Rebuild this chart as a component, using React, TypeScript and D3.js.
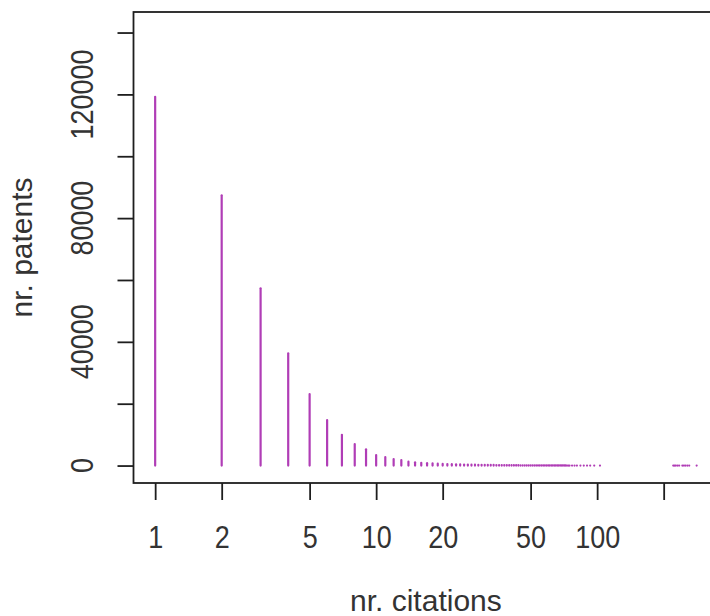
import React, { useRef, useEffect } from 'react';
import * as d3 from 'd3';

// citation count (x) and number of patents with that count (y)
const citations: number[] = [
  1, 2, 3, 4, 5, 6, 7, 8, 9, 10,
  11, 12, 13, 14, 15, 16, 17, 18, 19, 20,
  21, 22, 23, 24, 25, 26, 27, 28, 29, 30,
  31, 32, 33, 34, 35, 36, 37, 38, 39, 40,
  41, 42, 43, 44, 45, 46, 47, 48, 49, 50,
  51, 52, 53, 54, 55, 56, 57, 58, 59, 60,
  61, 62, 63, 64, 65, 66, 67, 68, 69, 70,
  71, 72, 73, 74, 75, 77, 79, 81, 84, 87,
  90, 93, 97, 103,
  221, 224, 227, 231, 235, 243, 247, 251, 256, 261, 282,
];

const patents: number[] = [
  119200, 87400, 57300, 36300, 23100, 14700, 9950, 6950, 5250, 3400,
  2750, 2100, 1800, 1250, 1050, 900, 780, 680, 600, 530,
  480, 440, 400, 370, 340, 320, 300, 280, 260, 245,
  230, 215, 200, 190, 180, 170, 160, 150, 142, 135,
  128, 121, 115, 110, 105, 100, 95, 90, 86, 82,
  78, 75, 72, 69, 66, 63, 60, 57, 55, 52,
  50, 48, 46, 44, 42, 40, 38, 36, 34, 32,
  30, 28, 26, 24, 22, 20, 18, 16, 14, 12,
  10, 8, 6, 4,
  3, 3, 3, 2, 2, 2, 2, 2, 1, 1, 1,
];

const xTicks: number[] = [1, 2, 5, 10, 20, 50, 100, 200];
const xTickLabels: string[] = ['1', '2', '5', '10', '20', '50', '100', ''];
const yTicks: number[] = [0, 20000, 40000, 60000, 80000, 100000, 120000, 140000];
const yTickLabels: number[] = [0, 40000, 80000, 120000];
const yLimit: [number, number] = [0, 141000];

const xTitle = 'nr. citations';
const yTitle = 'nr. patents';

const App = () => {
  const svgRef = useRef<SVGSVGElement>(null);

  useEffect(() => {
    const svg = d3.select(svgRef.current);
    svg.selectAll('*').remove();

    const W = 710;
    const H = 616;
    const box = { left: 133.5, right: 718.3, top: 12, bottom: 483 };
    const font = '"Liberation Sans", Arial, sans-serif';
    const ink = '#1e1e1e';
    const textInk = '#333333';
    const barColor = '#b03db6';
    const digitSquash = 0.87; // digits in the reference are narrower than Arial's

    // R-style 4% padding of the ranges (log space for x)
    const [lx0, lx1] = d3.extent(citations.map(Math.log10)) as [number, number];
    const px = (lx1 - lx0) * 0.04;
    const xScale = d3.scaleLog()
      .domain([Math.pow(10, lx0 - px), Math.pow(10, lx1 + px)])
      .range([box.left, box.right]);

    const py = (yLimit[1] - yLimit[0]) * 0.04;
    const yScale = d3.scaleLinear()
      .domain([yLimit[0] - py, yLimit[1] + py])
      .range([box.bottom, box.top]);

    svg.attr('width', W).attr('height', H);

    svg.append('rect')
      .attr('width', W)
      .attr('height', H)
      .attr('fill', 'white');

    // vertical lines (type = "h")
    svg.append('g')
      .selectAll('line')
      .data(citations.map((c, i) => ({ c, n: patents[i] })))
      .enter()
      .append('line')
      .attr('x1', d => xScale(d.c))
      .attr('x2', d => xScale(d.c))
      .attr('y1', yScale(0))
      .attr('y2', d => yScale(d.n))
      .attr('stroke', barColor)
      .attr('stroke-width', 2.2)
      .attr('stroke-linecap', 'round');

    // plot box
    svg.append('rect')
      .attr('x', box.left)
      .attr('y', box.top)
      .attr('width', box.right - box.left)
      .attr('height', box.bottom - box.top)
      .attr('fill', 'none')
      .attr('stroke', ink)
      .attr('stroke-width', 1.8);

    // x axis
    const xAxis = d3.axisBottom(xScale)
      .tickValues(xTicks)
      .tickFormat((d, i) => xTickLabels[i])
      .tickSize(17);

    const gx = svg.append('g')
      .attr('transform', `translate(0,${box.bottom})`)
      .call(xAxis);
    gx.select('.domain').remove();
    gx.selectAll('.tick line').attr('stroke', ink).attr('stroke-width', 1.8);
    gx.selectAll('.tick text')
      .attr('y', null)
      .attr('dy', null)
      .attr('transform', `translate(0,65) scale(${digitSquash},1)`)
      .style('font-family', font)
      .style('font-size', '31px')
      .attr('fill', textInk);

    // y axis
    const yAxis = d3.axisLeft(yScale)
      .tickValues(yTicks)
      .tickFormat(() => '')
      .tickSize(16);

    const gy = svg.append('g')
      .attr('transform', `translate(${box.left},0)`)
      .call(yAxis);
    gy.select('.domain').remove();
    gy.selectAll('.tick line').attr('stroke', ink).attr('stroke-width', 1.8);

    svg.append('g')
      .selectAll('text')
      .data(yTickLabels)
      .enter()
      .append('text')
      .attr('transform', d => `translate(93,${yScale(d)}) rotate(-90) scale(${digitSquash},1)`)
      .attr('text-anchor', 'middle')
      .style('font-family', font)
      .style('font-size', '31px')
      .attr('fill', textInk)
      .text(d => String(d));

    // axis titles
    svg.append('text')
      .attr('x', (box.left + box.right) / 2)
      .attr('y', 611)
      .attr('text-anchor', 'middle')
      .style('font-family', font)
      .style('font-size', '30px')
      .attr('fill', textInk)
      .text(xTitle);

    svg.append('text')
      .attr('transform', `translate(32,${(box.top + box.bottom) / 2}) rotate(-90)`)
      .attr('text-anchor', 'middle')
      .style('font-family', font)
      .style('font-size', '30px')
      .attr('fill', textInk)
      .text(yTitle);
  }, []);

  return (
    <svg
      ref={svgRef}
      style={{ position: 'absolute', left: 0, top: 0, display: 'block' }}
    ></svg>
  );
};

export default App;
